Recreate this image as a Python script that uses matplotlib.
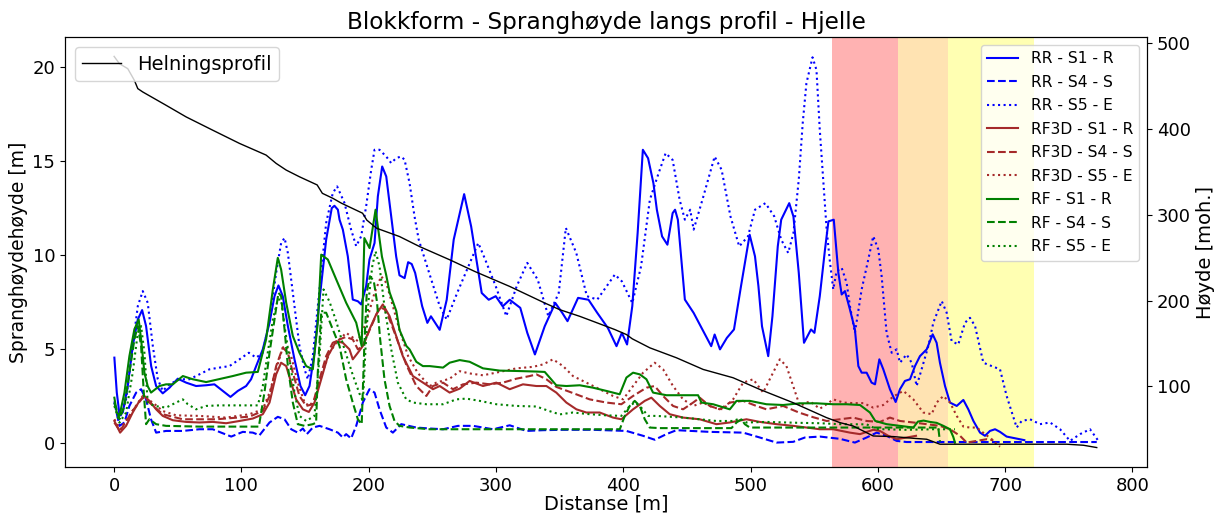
import matplotlib
matplotlib.use("Agg")
import matplotlib.pyplot as plt

# --- Spranghøyde [m] along the profile, per model and scenario ---
rr_s1_x = [0.2, 2.1, 4.2, 6.8, 10.7, 14.6, 18.6, 22.0, 25.1, 29.1, 33.0, 38.2, 43.5, 50.0, 56.6,
           64.4, 72.3, 78.8, 85.4, 91.4, 97.2, 103.7, 107.6, 111.6, 116.8, 122.1, 126.0, 129.1,
           132.5, 136.5, 141.7, 146.4, 150.1, 153.5, 157.4, 161.4, 166.6, 171.0, 173.1, 175.8,
           177.1, 179.7, 183.6, 187.5, 191.5, 194.1, 198.0, 200.6, 204.6, 207.2, 210.6, 213.8,
           217.7, 221.6, 224.2, 228.2, 231.0, 233.8, 236.5, 242.0, 246.1, 248.9, 255.8, 261.3,
           266.8, 275.0, 280.5, 288.8, 294.3, 299.8, 305.3, 310.8, 319.1, 324.6, 330.6, 338.3,
           346.6, 352.1, 356.2, 364.5, 372.7, 379.6, 387.9, 394.7, 398.9, 403.0, 407.1, 411.3,
           415.4, 419.5, 423.7, 426.4, 430.5, 434.7, 438.8, 440.7, 442.9, 448.4, 455.3, 462.2,
           469.1, 471.8, 476.0, 481.4, 487.0, 492.5, 499.3, 503.5, 506.2, 509.0, 513.9, 517.2,
           521.4, 524.1, 530.4, 533.7, 537.9, 542.0, 547.5, 550.2, 554.4, 558.5, 561.2, 565.4,
           569.0, 571.6, 574.2, 578.1, 582.0, 584.7, 587.3, 591.2, 595.1, 597.8, 601.2, 604.3,
           609.5, 614.0, 617.4, 621.3, 625.3, 629.2, 633.1, 638.4, 643.1, 646.2, 648.8, 652.8,
           656.7, 662.0, 667.2, 671.1, 675.1, 680.3, 684.2, 688.1, 692.1, 696.0, 701.2, 709.1,
           715.1]
rr_s1_y = [4.52, 2.66, 1.51, 1.6, 3.0, 5.14, 6.55, 7.05, 6.2, 4.07, 3.01, 2.62, 2.92, 3.4, 3.19,
           3.01, 3.05, 3.1, 2.75, 2.43, 2.75, 3.01, 3.37, 4.07, 4.96, 6.38, 7.79, 8.36,
           7.79, 6.2, 4.43, 3.01, 2.52, 3.01, 4.78, 7.61, 10.8, 12.48, 12.6, 12.39,
           11.86, 11.33, 9.91, 7.61, 7.52, 7.35, 8.32, 9.74, 10.62, 13.1, 14.69, 14.16,
           12.04, 9.9, 8.9, 8.75, 9.6, 9.5, 9.03, 7.26, 6.37, 6.72, 6.0, 7.6,
           10.8, 13.22, 11.5, 7.96, 7.6, 7.79, 7.25, 7.6, 7.17, 5.84, 4.69, 6.19,
           7.43, 6.9, 6.46, 7.7, 7.6, 6.9, 6.1, 5.13, 5.84, 5.22, 7.26, 11.15,
           15.58, 15.13, 13.8, 12.39, 10.97, 10.53, 12.21, 12.39, 11.86, 7.61, 6.9, 6.02,
           5.13, 5.75, 4.96, 5.57, 6.02, 8.32, 11.06, 9.91, 8.32, 6.19, 4.6, 6.72,
           10.44, 11.86, 12.74, 12.03, 9.03, 5.31, 6.02, 5.84, 7.79, 10.27, 11.77, 11.86,
           9.03, 7.88, 8.06, 7.08, 6.02, 4.07, 3.72, 3.72, 3.19, 3.1, 4.43, 3.9,
           2.84, 2.16, 2.84, 3.28, 3.37, 4.07, 4.6, 4.96, 5.76, 5.31, 4.25, 3.01,
           2.13, 1.95, 2.27, 1.77, 1.15, 0.53, 0.36, 0.62, 0.71, 0.57, 0.32, 0.21,
           0.13]

rr_s4_x = [0.2, 4.2, 8.1, 12.0, 17.3, 21.2, 25.1, 29.0, 33.0, 40.8, 53.9, 67.0, 77.5, 84.1, 92.0,
           101.1, 109.0, 114.2, 122.1, 128.6, 133.9, 139.1, 144.3, 148.3, 151.4, 156.1, 161.4,
           169.2, 175.8, 179.7, 182.3, 186.2, 190.2, 195.4, 200.6, 204.6, 208.5, 213.8, 219.0,
           225.6, 237.4, 247.9, 258.4, 270.2, 282.0, 297.7, 310.8, 323.9, 337.0, 352.7, 376.3,
           402.5, 415.6, 424.8, 433.9, 441.8, 468.0, 494.2, 507.3, 520.4, 533.5, 542.7, 554.5,
           570.2, 582.0, 591.2, 599.1, 606.9, 614.8, 622.6, 700.0, 772.0]
rr_s4_y = [2.13, 0.89, 1.07, 1.95, 2.66, 2.84, 2.3, 1.24, 0.53, 0.62, 0.62, 0.71, 0.71, 0.53, 0.32,
           0.57, 0.53, 0.39, 1.07, 1.37, 1.24, 0.71, 0.53, 0.75, 0.45, 0.8, 0.89,
           0.71, 0.53, 0.27, 0.45, 0.22, 0.89, 2.13, 2.84, 2.66, 1.77, 0.8, 0.53,
           0.98, 0.8, 0.75, 0.71, 0.89, 0.89, 0.71, 0.92, 0.62, 0.66, 0.68, 0.68,
           0.62, 0.36, 0.15, 0.45, 0.66, 0.57, 0.53, 0.27, 0.0, 0.04, 0.27, 0.32,
           0.2, 0.0, 0.27, 0.53, 0.36, 0.09, 0.03, 0.03, 0.03]

rr_s5_x = [0.2, 4.2, 9.4, 14.6, 18.6, 22.5, 26.4, 30.4, 34.3, 38.2, 43.5, 51.3, 59.2, 67.0, 74.9,
           82.8, 90.6, 98.5, 105.8, 111.6, 116.8, 122.1, 127.3, 131.2, 133.9, 136.5, 140.4,
           145.6, 149.6, 152.2, 156.1, 161.4, 166.6, 171.8, 175.2, 181.0, 186.2, 190.2, 194.1,
           198.0, 202.0, 204.6, 208.5, 213.8, 217.7, 221.6, 225.5, 228.2, 232.1, 236.0, 239.3,
           247.5, 255.8, 261.3, 269.5, 280.5, 286.1, 291.6, 299.8, 308.1, 316.3, 324.6, 332.8,
           341.1, 349.3, 354.9, 363.1, 371.4, 379.6, 385.1, 393.4, 398.9, 407.1, 414.0, 420.9,
           427.8, 433.3, 438.8, 444.3, 448.4, 452.6, 455.3, 462.2, 471.8, 477.3, 484.2, 491.1,
           498.0, 503.5, 511.7, 518.6, 524.1, 529.6, 533.7, 537.9, 541.0, 543.9, 548.7, 551.8,
           554.4, 557.1, 559.8, 562.4, 565.0, 567.6, 571.6, 575.5, 578.1, 582.0, 587.3, 592.5,
           596.4, 600.4, 603.0, 606.9, 610.9, 614.8, 617.4, 622.6, 626.6, 630.5, 634.4, 639.7,
           643.6, 650.2, 654.1, 658.0, 663.2, 668.5, 672.4, 676.4, 682.9, 689.5, 696.0, 701.2,
           709.1, 713.0, 719.6, 727.4, 735.3, 743.2, 751.0, 758.9, 766.7, 773.3]
rr_s5_y = [2.2, 1.24, 2.3, 5.14, 7.26, 8.06, 7.44, 5.14, 3.37, 2.75, 3.1, 3.37, 3.37, 3.63, 3.9,
           3.99, 4.07, 4.43, 4.78, 4.52, 4.78, 6.55, 9.03, 10.62, 10.89, 10.09, 7.97,
           5.14, 3.9, 3.37, 4.6, 8.15, 11.69, 13.28, 13.63, 12.75, 11.33, 10.45, 10.98,
           12.57, 14.52, 15.58, 15.58, 15.22, 14.87, 15.14, 15.22, 15.05, 13.81, 12.04, 10.8,
           9.03, 7.26, 6.55, 7.96, 9.73, 10.62, 9.73, 8.32, 6.73, 8.32, 9.56, 8.67,
           6.73, 7.96, 11.42, 10.09, 7.79, 7.61, 8.14, 8.94, 8.58, 7.43, 9.38, 12.92,
           14.34, 15.4, 15.04, 12.92, 11.86, 12.39, 11.33, 12.92, 15.22, 14.51, 12.04, 10.44,
           10.97, 12.39, 12.74, 12.04, 10.8, 10.09, 11.15, 14.0, 17.0, 19.12, 20.5, 19.83,
           16.64, 13.98, 11.33, 9.6, 8.15, 9.12, 9.3, 8.5, 7.26, 5.84, 8.15, 9.74,
           10.98, 10.27, 8.85, 5.84, 4.78, 4.96, 4.25, 4.69, 4.25, 3.01, 3.9, 5.14,
           6.38, 7.53, 6.91, 5.4, 5.22, 6.38, 6.64, 6.2, 4.25, 4.07, 3.9, 2.48,
           0.8, 1.15, 1.24, 0.98, 1.07, 0.71, 0.09, 0.45, 0.71, 0.09]

rf3d_s1_x = [0.2, 4.7, 9.4, 14.6, 19.9, 23.8, 27.7, 33.0, 38.2, 46.1, 56.6, 67.0, 77.5, 88.0, 98.5,
             109.0, 116.8, 122.1, 127.3, 131.2, 135.2, 139.1, 143.0, 148.3, 153.0, 157.4, 162.7,
             167.9, 174.5, 179.7, 184.9, 187.5, 191.5, 195.4, 200.6, 205.9, 211.1, 216.4, 221.6,
             226.8, 234.7, 242.7, 250.5, 255.8, 263.6, 271.5, 279.3, 289.8, 300.3, 310.8, 321.2,
             331.7, 339.6, 347.4, 355.3, 363.2, 371.0, 381.5, 392.0, 398.5, 407.7, 416.9, 422.1,
             428.7, 436.5, 447.0, 460.1, 473.2, 483.7, 496.8, 507.3, 520.4, 533.5, 544.0, 554.4,
             565.0, 578.1, 586.0, 596.4, 601.7, 608.2, 614.8, 622.6, 630.0]
rf3d_s1_y = [1.15, 0.53, 0.89, 1.6, 2.22, 2.48, 2.22, 1.77, 1.42, 1.19, 1.1, 1.07, 1.1, 1.03, 1.15,
             1.28, 1.51, 2.13, 3.63, 4.25, 4.07, 3.19, 2.3, 1.77, 1.63, 2.13, 3.37,
             4.6, 5.4, 5.31, 4.96, 4.43, 4.78, 5.14, 6.02, 6.82, 7.35, 6.73, 5.67,
             4.6, 3.54, 3.19, 2.84, 3.01, 2.66, 2.87, 3.28, 3.01, 3.19, 2.84, 3.1,
             3.01, 3.01, 2.66, 2.13, 1.77, 1.6, 1.6, 1.33, 1.24, 1.77, 2.22, 2.39,
             1.95, 1.51, 1.33, 1.24, 0.98, 1.07, 1.24, 1.1, 0.98, 0.89, 0.8, 0.71,
             0.71, 0.53, 0.45, 0.68, 0.62, 0.36, 0.18, 0.27, 0.36]

rf3d_s4_x = [0.2, 4.7, 14.6, 22.5, 27.7, 38.2, 53.9, 80.1, 106.3, 116.8, 122.1, 127.3, 132.5,
             136.5, 140.4, 145.6, 150.9, 156.1, 161.4, 166.6, 171.8, 177.2, 182.0, 187.5, 191.5,
             195.5, 199.5, 203.4, 208.6, 212.4, 216.4, 221.7, 229.5, 237.4, 245.3, 250.5, 258.4,
             266.2, 274.1, 284.6, 295.1, 305.5, 316.0, 326.5, 331.7, 339.6, 347.5, 357.9, 373.6,
             386.7, 398.5, 407.7, 418.2, 424.7, 431.3, 439.1, 447.0, 454.9, 460.1, 467.9, 475.8,
             483.7, 494.2, 504.6, 512.5, 525.6, 538.0, 549.2, 559.8, 570.2, 580.7, 591.2, 601.7,
             609.5, 617.4, 627.9, 638.4, 648.8, 656.7, 664.6, 669.8, 677.7, 685.5, 690.8]
rf3d_s4_y = [1.06, 0.62, 1.7, 2.39, 2.13, 1.51, 1.24, 1.24, 1.38, 1.68, 2.48, 4.07, 5.05,
             4.78, 3.72, 2.48, 1.95, 2.04, 3.37, 4.6, 5.31, 5.49, 5.62, 5.49, 4.96,
             5.14, 5.8, 6.4, 7.2, 7.1, 6.55, 5.6, 4.15, 3.01, 2.48, 3.01, 3.19,
             2.84, 3.1, 3.19, 3.1, 3.19, 3.4, 3.54, 3.63, 3.37, 2.96, 2.7, 2.3,
             2.13, 2.04, 2.48, 2.92, 3.01, 2.48, 1.95, 1.77, 2.13, 2.39, 1.95, 1.77,
             2.13, 2.22, 1.95, 1.77, 1.95, 1.6, 1.35, 1.15, 1.24, 1.33, 1.15, 1.1,
             1.33, 1.15, 1.07, 0.98, 0.89, 0.71, 0.36, 0.0, 0.09, 0.18, 0.12]

rf3d_s5_x = [0.2, 4.7, 14.6, 22.5, 30.4, 38.2, 48.7, 67.0, 88.0, 106.3, 116.8, 122.1, 127.3,
             132.5, 135.2, 139.1, 144.3, 149.6, 153.5, 157.4, 162.7, 169.2, 174.5, 182.3, 191.5,
             198.0, 204.6, 209.8, 213.8, 219.0, 224.2, 231.0, 238.6, 247.9, 253.1, 263.6, 271.5,
             279.3, 289.8, 302.9, 316.0, 329.1, 337.0, 344.8, 352.7, 360.5, 371.0, 381.5, 392.0,
             399.9, 407.7, 415.6, 424.7, 431.3, 439.1, 447.0, 454.9, 462.7, 470.6, 478.4, 486.3,
             494.2, 502.1, 509.9, 515.1, 523.0, 528.2, 533.5, 538.7, 546.6, 554.4, 559.8, 565.0,
             572.9, 580.7, 588.6, 596.4, 604.3, 612.2, 620.0, 627.9, 635.7, 642.3, 646.2, 651.5,
             656.7, 662.0, 667.2, 672.4, 677.7, 684.2, 689.5, 693.4, 696.0]
rf3d_s5_y = [1.24, 0.71, 1.7, 2.48, 2.13, 1.68, 1.45, 1.42, 1.33, 1.51, 1.77, 2.66, 3.9,
             5.05, 5.14, 4.6, 3.19, 2.13, 1.95, 2.3, 3.54, 4.78, 5.31, 5.84, 5.4,
             6.38, 7.97, 8.85, 8.5, 7.26, 6.0, 4.6, 3.7, 3.01, 3.19, 3.4, 3.8,
             3.68, 3.58, 3.76, 3.95, 4.03, 4.16, 4.43, 4.07, 3.54, 3.19, 2.84, 2.48,
             2.3, 3.01, 3.72, 4.25, 3.9, 3.01, 2.3, 1.95, 2.13, 1.86, 1.77, 2.3,
             3.19, 3.37, 2.66, 3.37, 4.43, 4.07, 3.01, 1.95, 2.2, 1.8, 2.04, 2.3,
             2.13, 2.1, 2.1, 1.86, 2.0, 2.45, 2.75, 2.3, 1.6, 1.51, 2.13, 2.48,
             2.13, 1.42, 0.85, 0.8, 0.8, 0.45, 0.18, -0.09, -0.22]

rf_s1_x = [0.2, 2.1, 4.2, 8.1, 12.0, 15.9, 19.3, 21.2, 23.8, 26.4, 29.0, 35.6, 40.8, 46.1, 54.0,
           61.8, 72.3, 93.2, 103.7, 112.9, 119.4, 124.7, 128.6, 131.2, 135.2, 140.4, 145.6,
           150.9, 156.1, 160.0, 162.7, 167.9, 174.5, 182.3, 190.2, 194.5, 196.6, 200.7, 205.4,
           210.4, 213.8, 216.4, 221.7, 224.2, 229.6, 232.1, 237.4, 242.6, 247.9, 258.4, 263.6,
           271.5, 279.3, 289.8, 302.9, 316.0, 331.7, 338.3, 347.4, 355.3, 365.8, 376.3, 386.7,
           397.2, 402.5, 407.7, 413.0, 418.2, 423.4, 433.9, 447.0, 458.8, 461.4, 470.6, 483.7,
           489.0, 499.4, 512.5, 525.6, 538.7, 551.9, 565.0, 575.5, 586.0, 593.8, 598.0, 606.9,
           617.4, 627.9, 631.5, 636.0, 641.0, 646.2, 651.5, 656.7, 659.3, 660.6]
rf_s1_y = [2.39, 1.6, 1.42, 2.66, 4.6, 6.02, 6.55, 5.49, 3.72, 3.0, 2.66, 3.01, 3.1, 3.1, 3.54,
           3.37, 3.22, 3.54, 3.72, 3.76, 5.49, 8.15, 9.83, 9.21, 7.44, 5.67, 4.78,
           4.07, 3.9, 6.38, 10.0, 9.74, 8.68, 7.44, 6.38, 5.14, 10.88, 10.35, 12.39,
           9.9, 8.9, 8.0, 7.0, 6.0, 5.14, 4.96, 4.3, 4.07, 4.07, 3.99, 4.25,
           4.39, 4.3, 3.95, 3.83, 3.81, 3.78, 3.76, 3.05, 3.01, 3.05, 2.92, 2.75,
           2.57, 3.46, 3.72, 3.63, 3.37, 2.66, 2.52, 2.52, 2.52, 2.13, 2.04, 1.77,
           2.22, 2.22, 2.04, 2.0, 2.09, 2.09, 2.04, 2.04, 2.0, 1.6, 1.15, 0.98,
           0.89, 0.8, 1.12, 1.17, 1.1, 1.05, 0.89, 0.71, 0.3, 0.0]

rf_s4_x = [0.2, 4.2, 8.1, 12.0, 15.9, 18.6, 21.2, 23.3, 25.1, 27.7, 33.0, 40.8, 67.0, 93.2, 113.7,
           118.1, 122.1, 126.0, 129.1, 131.2, 133.9, 136.5, 140.4, 144.3, 149.6, 156.1, 158.7,
           160.0, 162.7, 166.6, 171.8, 177.1, 182.3, 187.5, 191.5, 194.5, 196.5, 198.5, 201.0,
           204.0, 206.5, 209.0, 212.4, 216.4, 220.3, 224.2, 232.2, 247.9, 300.0, 357.9, 397.3,
           401.2, 405.1, 409.0, 413.0, 416.9, 420.8, 428.7, 485.0, 489.0, 492.9, 495.5, 499.4,
           570.2, 647.5, 648.8]
rf_s4_y = [2.13, 1.24, 1.95, 3.72, 5.49, 6.2, 5.14, 2.66, 0.98, 1.24, 0.98, 0.89, 0.85, 0.85, 0.85,
           2.66, 4.78, 6.55, 7.97, 7.79, 6.02, 4.07, 2.13, 0.98, 0.89, 0.98, 1.06,
           3.72, 6.91, 6.91, 6.02, 5.14, 3.37, 2.13, 1.24, 0.98, 5.0, 8.0, 8.85,
           8.6, 7.5, 5.5, 3.37, 1.95, 1.15, 0.89, 0.8, 0.71, 0.71, 0.71, 0.71,
           1.42, 1.95, 2.22, 1.95, 1.24, 0.8, 0.77, 0.77, 1.07, 1.24, 0.98, 0.8,
           0.8, 0.8, 0.05]

rf_s5_x = [0.2, 4.2, 9.4, 14.6, 18.6, 21.2, 23.8, 26.4, 31.7, 40.8, 48.7, 53.9, 57.9, 64.4, 72.3,
           82.8, 98.5, 112.9, 116.8, 120.7, 124.7, 128.6, 131.2, 133.9, 137.8, 141.7, 145.6,
           150.9, 157.4, 161.4, 164.5, 169.2, 174.5, 181.0, 187.5, 192.8, 195.5, 197.5, 199.8,
           202.8, 205.4, 208.5, 212.4, 217.7, 222.9, 229.5, 234.8, 245.3, 258.4, 268.9, 276.7,
           287.2, 300.3, 316.0, 331.7, 340.9, 350.1, 360.5, 373.6, 386.7, 398.5, 405.1, 409.0,
           413.0, 419.5, 426.0, 447.0, 460.1, 473.2, 486.3, 491.5, 496.8, 512.5, 538.7, 554.5,
           570.2, 591.2, 599.0, 622.6, 643.6, 660.6]
rf_s5_y = [1.95, 1.06, 1.6, 3.72, 5.84, 6.2, 4.78, 2.13, 1.95, 1.86, 2.13, 2.3, 2.04, 1.77, 1.95,
           1.98, 1.98, 1.98, 3.01, 4.78, 6.55, 7.61, 7.61, 6.2, 4.43, 2.66, 1.42,
           1.15, 1.42, 4.6, 8.15, 7.5, 6.45, 4.96, 3.6, 2.6, 2.2, 5.0, 7.5,
           9.38, 10.18, 9.38, 7.26, 4.96, 3.19, 2.3, 2.13, 2.04, 2.04, 2.3, 2.34,
           2.22, 2.04, 1.95, 1.92, 1.7, 1.5, 1.6, 1.51, 1.45, 1.42, 1.95, 2.13,
           1.95, 1.42, 1.42, 1.33, 1.24, 1.15, 1.15, 1.28, 1.07, 1.1, 1.05, 1.03,
           0.98, 0.97, 0.72, 0.68, 0.71, 0.71]

# --- Terrain profile, height above sea level [moh.] ---
profil_x = [0.0, 4.15, 10.7, 15.9, 18.6, 22.5, 40.8, 56.6, 77.5, 98.5, 119.4, 127.3, 135.2, 145.6,
            159.5, 163.6, 171.8, 178.7, 195.2, 198.5, 206.2, 224.2, 240.0, 264.1, 283.3, 310.8,
            338.3, 350.1, 365.9, 376.3, 393.4, 402.5, 407.1, 420.9, 441.8, 462.8, 486.3, 507.3,
            533.5, 559.7, 570.2, 580.7, 596.4, 612.2, 627.9, 638.4, 648.8, 669.8, 748.4, 761.5,
            772.0]
profil_h = [484.9, 476.4, 470.6, 457.0, 447.3, 443.4, 427.9, 414.3, 398.8, 383.4, 369.8, 360.1,
            352.3, 344.5, 335.0, 325.2, 319.4, 313.6, 302.0, 294.0, 284.5, 274.8, 263.1, 247.4,
            234.1, 216.6, 197.3, 189.5, 181.7, 175.9, 166.3, 160.5, 155.5, 145.0, 133.4, 119.8,
            110.1, 96.5, 81.0, 63.6, 57.8, 53.8, 42.2, 41.5, 39.5, 38.4, 32.6, 32.6, 32.6, 31.4,
            28.7]

# shaded zones along the profile: (start, end, colour)
soner = [(564.0, 615.7, "red"), (615.7, 655.0, "orange"), (655.0, 722.7, "yellow")]

serier = [
    (rr_s1_x, rr_s1_y, "RR - S1 - R", "blue", "-"),
    (rr_s4_x, rr_s4_y, "RR - S4 - S", "blue", "--"),
    (rr_s5_x, rr_s5_y, "RR - S5 - E", "blue", ":"),
    (rf3d_s1_x, rf3d_s1_y, "RF3D - S1 - R", "brown", "-"),
    (rf3d_s4_x, rf3d_s4_y, "RF3D - S4 - S", "brown", "--"),
    (rf3d_s5_x, rf3d_s5_y, "RF3D - S5 - E", "brown", ":"),
    (rf_s1_x, rf_s1_y, "RF - S1 - R", "green", "-"),
    (rf_s4_x, rf_s4_y, "RF - S4 - S", "green", "--"),
    (rf_s5_x, rf_s5_y, "RF - S5 - E", "green", ":"),
]

fig = plt.figure(figsize=(12.17, 5.14), dpi=100)
ax = fig.add_axes([0.0534, 0.0914, 0.8891, 0.8366])

for x0, x1, c in soner:
    ax.axvspan(x0, x1, color=c, alpha=0.3, lw=0, zorder=0)

for x, y, navn, farge, stil in serier:
    ax.plot(x, y, color=farge, linestyle=stil, lw=1.5, label=navn)

ax.set_xlim(-38.6, 811.5)
ax.set_ylim(-1.3, 21.58)
ax.set_xlabel("Distanse [m]", fontsize=14, labelpad=0)
ax.set_ylabel("Spranghøydehøyde [m]", fontsize=13.5, labelpad=3)
ax.tick_params(labelsize=13)
ax.set_title("Blokkform - Spranghøyde langs profil - Hjelle", fontsize=16.7)
ax.legend(loc="upper right", fontsize=11.2, labelspacing=0.55)

ax2 = ax.twinx()
ax2.plot(profil_x, profil_h, color="black", lw=1.0, label="Helningsprofil")
ax2.set_ylim(6.0, 507.5)
ax2.set_ylabel("Høyde [moh.]", fontsize=14)
ax2.tick_params(labelsize=13)
ax2.legend(loc="upper left", fontsize=14)

fig.savefig("out.png", dpi=100)
